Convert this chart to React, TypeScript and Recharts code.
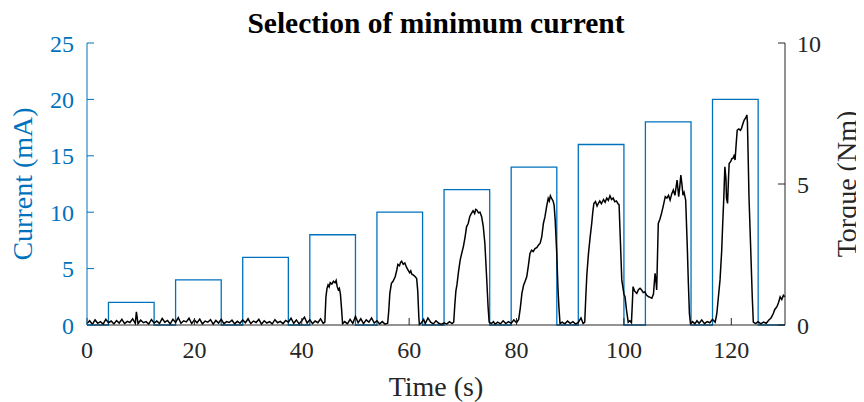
import React from 'react';
import { LineChart, Line, XAxis, YAxis } from 'recharts';

const BLUE = '#0072BD';
const AXIS = '#262626';
const FONT = '"Liberation Serif", "Times New Roman", serif';

const titleText = 'Selection of minimum current';
const xLabel = 'Time (s)';
const leftLabel = 'Current (mA)';
const rightLabel = 'Torque (Nm)';

const xTicks = [0, 20, 40, 60, 80, 100, 120];
const leftTicks = [0, 5, 10, 15, 20, 25];
const rightTicks = [0, 5, 10];

// Current command pulses (s, s, mA)
const pulseStart = [4, 16.5, 29, 41.5, 54, 66.5, 79, 91.5, 104, 116.5];
const pulseEnd = [12.5, 25, 37.5, 50, 62.5, 75, 87.5, 100, 112.5, 125];
const pulseCurrent = [2, 4, 6, 8, 10, 12, 14, 16, 18, 20];

// Measured torque samples [time s, torque Nm]
const torqueSamples: [number, number][] = [
  [0, 0.05], [0.5, 0.15], [1, 0.02], [1.5, 0.18], [2, 0.06], [2.5, 0.12], [3, 0.03], [3.5, 0.2],
  [4, 0.08], [4.5, 0.14], [5, 0.04], [5.5, 0.16], [6, 0.07], [6.5, 0.2], [7, 0.05], [7.5, 0.13],
  [8, 0.09], [8.5, 0.22], [9, 0.06], [9.2, 0.47], [9.5, 0.05], [10, 0.17], [10.5, 0.08], [11, 0.12],
  [11.5, 0.03], [12, 0.19], [12.5, 0.07], [13, 0.14], [13.5, 0.05], [14, 0.23], [14.5, 0.1], [15, 0.16],
  [15.5, 0.04], [16, 0.2], [16.5, 0.09], [17, 0.26], [17.5, 0.06], [18, 0.15], [18.5, 0.11], [19, 0.24],
  [19.5, 0.05], [20, 0.18], [20.5, 0.08], [21, 0.21], [21.5, 0.04], [22, 0.14], [22.5, 0.1], [23, 0.19],
  [23.5, 0.03], [24, 0.16], [24.5, 0.07], [25, 0.2], [25.5, 0.05], [26, 0.12], [26.5, 0.09], [27, 0.17],
  [27.5, 0.04], [28, 0.13], [28.5, 0.06], [29, 0.18], [29.5, 0.08], [30, 0.22], [30.5, 0.05], [31, 0.14],
  [31.5, 0.09], [32, 0.2], [32.5, 0.03], [33, 0.15], [33.5, 0.07], [34, 0.12], [34.5, 0.04], [35, 0.19],
  [35.5, 0.08], [36, 0.13], [36.5, 0.05], [37, 0.16], [37.5, 0.1], [38, 0.24], [38.5, 0.06], [39, 0.18],
  [39.5, 0.04], [40, 0.15], [40.5, 0.28], [41, 0.07], [41.5, 0.19], [42, 0.05], [42.5, 0.14], [43, 0.08],
  [43.5, 0.22], [44, 0.06], [44.3, 0.1],
  [44.5, 1.0], [44.7, 1.3], [44.9, 1.42], [45.1, 1.35], [45.3, 1.5], [45.6, 1.45], [45.9, 1.55], [46.2, 1.5],
  [46.4, 1.58], [46.6, 1.36], [46.8, 1.25], [47.0, 1.3], [47.2, 1.1], [47.4, 0.6], [47.6, 0.05],
  [48, 0.12], [48.5, 0.04], [49, 0.2], [49.5, 0.06], [50, 0.3], [50.5, 0.08], [51, 0.22], [51.5, 0.05],
  [52, 0.18], [52.5, 0.1], [53, 0.25], [53.5, 0.07], [54, 0.15], [54.5, 0.04], [55, 0.12], [55.5, 0.03], [56, 0.06],
  [56.2, 0.5], [56.4, 1.12], [56.7, 1.48], [57.0, 1.55], [57.4, 1.71], [57.7, 1.95], [57.9, 2.15], [58.2, 2.1],
  [58.4, 2.22], [58.6, 2.26], [58.9, 2.15], [59.2, 2.2], [59.5, 2.05], [59.8, 1.95], [60.1, 1.85], [60.3, 1.92],
  [60.5, 1.8], [60.8, 1.77], [61.1, 1.72], [61.4, 1.65], [61.6, 1.2], [61.8, 0.3], [61.9, 0.02],
  [62.3, 0.08], [62.7, 0.2], [63, 0.05], [63.5, 0.25], [64, 0.1], [64.5, 0.04], [65, 0.15], [65.5, 0.06],
  [66, 0.02], [66.5, 0.08], [67, 0.03], [67.5, 0.12], [68, 0.05], [68.3, 0.1],
  [68.5, 0.7], [68.7, 1.2], [68.9, 1.42], [69.2, 1.9], [69.5, 2.3], [69.8, 2.55], [70.1, 2.78], [70.4, 3.1],
  [70.7, 3.49], [71.0, 3.6], [71.3, 3.85], [71.6, 3.96], [71.9, 4.05], [72.2, 3.95], [72.4, 4.1], [72.6, 4.08],
  [72.9, 3.98], [73.2, 4.0], [73.5, 3.84], [73.8, 3.5], [74.1, 2.9], [74.4, 1.8], [74.7, 0.65], [74.9, 0.1],
  [75.3, 0.05], [75.7, 0.12], [76, 0.03], [76.5, 0.1], [77, 0.04], [77.5, 0.15], [78, 0.05], [78.5, 0.12],
  [79, 0.06], [79.5, 0.18], [80, 0.08], [80.4, 0.2],
  [80.7, 0.6], [81.0, 1.12], [81.3, 1.4], [81.6, 1.55], [81.9, 1.71], [82.2, 2.1], [82.5, 2.54], [82.8, 2.65],
  [83.1, 2.6], [83.4, 2.7], [83.8, 2.75], [84.1, 2.84], [84.4, 2.9], [84.7, 3.13], [85.0, 3.6], [85.3, 3.84],
  [85.6, 4.2], [85.9, 4.49], [86.1, 4.4], [86.3, 4.58], [86.5, 4.5], [86.8, 4.4], [87.0, 4.25], [87.2, 3.72],
  [87.5, 2.5], [87.7, 1.36], [87.9, 0.6], [88.1, 0.05],
  [88.5, 0.1], [89, 0.04], [89.5, 0.14], [90, 0.06], [90.5, 0.12], [91, 0.03], [91.5, 0.09], [92, 0.25],
  [92.4, 0.05], [92.7, 0.1],
  [92.9, 1.0], [93.1, 1.8], [93.4, 2.54], [93.7, 3.1], [94.0, 3.6], [94.2, 4.0], [94.4, 4.31], [94.7, 4.38],
  [95.0, 4.22], [95.2, 4.3], [95.5, 4.4], [95.8, 4.3], [96.2, 4.45], [96.5, 4.35], [96.8, 4.5], [97.1, 4.42],
  [97.4, 4.58], [97.7, 4.45], [98.0, 4.5], [98.3, 4.37], [98.6, 4.4], [98.9, 4.3], [99.1, 4.26], [99.3, 3.2],
  [99.6, 1.6], [100.0, 1.1], [100.2, 1.0], [100.5, 0.5], [100.8, 0.1], [101.1, 0.15], [101.4, 0.08],
  [101.6, 0.9], [101.7, 1.36], [102.0, 1.2], [102.4, 1.12], [102.7, 1.25], [103.0, 1.3], [103.3, 1.24], [103.6, 1.15],
  [103.9, 1.18], [104.2, 1.06], [104.6, 1.0], [104.9, 0.98], [105.2, 0.95], [105.5, 1.1], [105.8, 1.83], [106.0, 1.5],
  [106.1, 1.24], [106.4, 3.6], [106.7, 3.75], [107.0, 3.96], [107.3, 4.2], [107.7, 4.55], [108.0, 4.5], [108.3, 4.6],
  [108.6, 4.43], [108.9, 4.65], [109.2, 4.79], [109.5, 4.6], [109.9, 5.14], [110.2, 4.55], [110.4, 4.9], [110.6, 5.32],
  [110.8, 5.0], [111.0, 4.6], [111.2, 4.7], [111.5, 4.43], [111.8, 2.78], [112.0, 1.5], [112.2, 0.4], [112.4, 0.05],
  [112.8, 0.12], [113.2, 0.04], [113.6, 0.15], [114, 0.06], [114.5, 0.18], [115, 0.05], [115.5, 0.12], [116, 0.08],
  [116.5, 0.2], [117, 0.1],
  [117.3, 0.4], [117.6, 1.0], [117.9, 1.6], [118.2, 2.6], [118.4, 3.6], [118.6, 4.5], [118.8, 5.61], [119.0, 5.2],
  [119.1, 4.5], [119.3, 4.31], [119.5, 5.3], [119.6, 5.73], [119.9, 5.8], [120.1, 5.9], [120.3, 5.91], [120.5, 6.0],
  [120.7, 5.85], [120.9, 6.4], [121.1, 6.91], [121.4, 6.95], [121.7, 6.9], [121.9, 6.97], [122.1, 7.1], [122.4, 7.27],
  [122.7, 7.35], [122.9, 7.45], [123.0, 7.2], [123.1, 6.32], [123.3, 4.5], [123.6, 2.78], [123.9, 1.0], [124.1, 0.1],
  [124.5, 0.05], [125, 0.12], [125.5, 0.04], [126, 0.1], [126.5, 0.06], [127, 0.18], [127.4, 0.25], [127.8, 0.4],
  [128.1, 0.55], [128.5, 0.65], [128.8, 0.8], [129.1, 1.0], [129.4, 0.9], [129.7, 1.05], [130, 1.0],
];

const currentData: { t: number; c: number }[] = [{ t: 0, c: 0 }];
pulseStart.forEach((s, i) => {
  currentData.push({ t: s, c: 0 });
  currentData.push({ t: s, c: pulseCurrent[i] });
  currentData.push({ t: pulseEnd[i], c: pulseCurrent[i] });
  currentData.push({ t: pulseEnd[i], c: 0 });
});
currentData.push({ t: 130, c: 0 });

const torqueData = torqueSamples.map(([t, v]) => ({ t, q: v }));

const W = 848;
const H = 394;

export default function App() {
  return (
    <div style={{ position: 'relative', width: W, height: H, background: '#fff' }}>
      <LineChart width={W} height={H} margin={{ top: 35, right: 0, bottom: 0, left: 0 }}>
        <XAxis
          dataKey="t"
          type="number"
          domain={[0, 130]}
          ticks={xTicks}
          interval={0}
          height={77}
          tickSize={-7}
          tickMargin={23}
          stroke={AXIS}
          axisLine={{ stroke: AXIS }}
          tickLine={{ stroke: AXIS }}
          tick={{ fill: AXIS, fontSize: 24, fontFamily: FONT }}
        />
        <YAxis
          yAxisId="left"
          orientation="left"
          domain={[0, 25]}
          ticks={leftTicks}
          interval={0}
          width={79}
          tickSize={-7}
          tickMargin={20}
          axisLine={{ stroke: BLUE }}
          tickLine={{ stroke: BLUE }}
          tick={{ fill: BLUE, fontSize: 24, fontFamily: FONT }}
        />
        <YAxis
          yAxisId="right"
          orientation="right"
          domain={[0, 10]}
          ticks={rightTicks}
          interval={0}
          width={71}
          tickSize={-7}
          tickMargin={19}
          axisLine={{ stroke: AXIS }}
          tickLine={{ stroke: AXIS }}
          tick={{ fill: AXIS, fontSize: 24, fontFamily: FONT }}
        />
        <Line
          yAxisId="left"
          data={currentData}
          dataKey="c"
          type="linear"
          stroke={BLUE}
          strokeWidth={1.3}
          dot={false}
          activeDot={false}
          isAnimationActive={false}
        />
        <Line
          yAxisId="right"
          data={torqueData}
          dataKey="q"
          type="linear"
          stroke="#000"
          strokeWidth={1.5}
          dot={false}
          activeDot={false}
          isAnimationActive={false}
        />
      </LineChart>
      <svg
        width={856}
        height={H}
        style={{ position: 'absolute', left: 0, top: 0, pointerEvents: 'none', overflow: 'visible' }}
      >
        <text x={428} y={25} textAnchor="middle" fontFamily={FONT} fontWeight="bold" fontSize={29.5} fill="#000">
          {titleText}
        </text>
        <text
          x={0}
          y={0}
          transform="translate(24,176) rotate(-90)"
          textAnchor="middle"
          fontFamily={FONT}
          fontSize={28}
          fill={BLUE}
        >
          {leftLabel}
        </text>
        <text
          x={0}
          y={0}
          transform="translate(848,176) rotate(-90)"
          textAnchor="middle"
          fontFamily={FONT}
          fontSize={28}
          fill={AXIS}
        >
          {rightLabel}
        </text>
        <text x={428} y={388} textAnchor="middle" fontFamily={FONT} fontSize={28} fill={AXIS}>
          {xLabel}
        </text>
      </svg>
    </div>
  );
}
